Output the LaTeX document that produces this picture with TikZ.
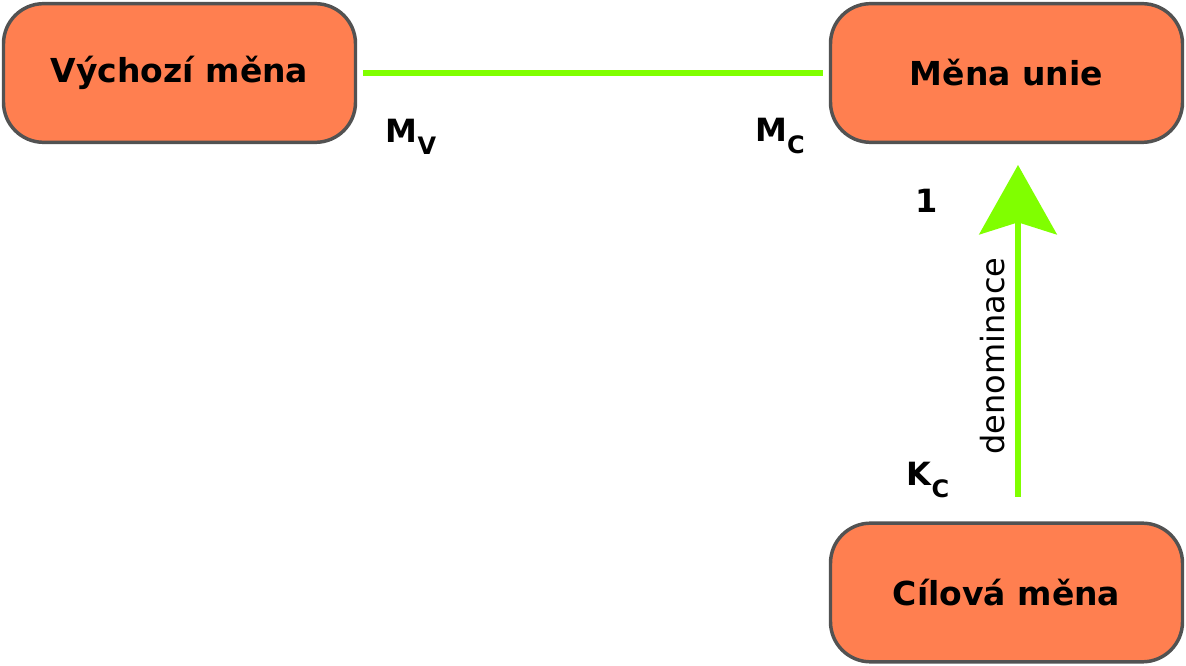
\documentclass[tikz,border=0pt]{standalone}
\usepackage{fontspec}
\setmainfont{DejaVu Sans}
\usetikzlibrary{arrows.meta}

\definecolor{boxfill}{HTML}{FF7F50}
\definecolor{boxline}{HTML}{525252}
\definecolor{flowgreen}{HTML}{80FF00}

\newcommand{\lowidx}[1]{\raisebox{-9.5pt}{\fontsize{18}{20}\selectfont #1}}

\begin{document}
\begin{tikzpicture}[x=0.75pt,y=-0.75pt,
  mena/.style={draw=boxline,line width=2.6pt,fill=boxfill,rounded corners=30pt,
    minimum width=264pt,minimum height=104pt,font=\fontsize{24.75}{30}\selectfont\bfseries},
  tag/.style={font=\fontsize{24}{28}\selectfont\bfseries},
  flow/.style={draw=flowgreen,line width=4.8pt}]
 \useasboundingbox (0,0) rectangle (1186,666);
 % three currencies
 \node[mena] (vych) at (179.5,73) {Výchozí měna};
 \node[mena] (unie) at (1006.5,73) {Měna unie};
 \node[mena] (cil) at (1006.5,592.5) {Cílová měna};
 % links
 \draw[flow,shorten <=4.3pt,shorten >=4.3pt] (vych.east) -- (unie.west);
 \coordinate (kc) at (1018,497); \coordinate (tip) at (1018,165);
 \draw[flow,-{Stealth[length=52pt,width=58pt,inset=9pt]}] (kc) -- node[pos=0.425,sloped,above=7.5pt,inner sep=0pt,font=\fontsize{24}{28}\selectfont] (den) {denominace} (tip);
 % rates
 \node[tag] (mv) at (411,137) {M\lowidx{V}};
 \node[tag] (mc) at (780,136) {M\lowidx{C}};
 \node[tag] (one) at (927,201) {1};
 \node[tag] (kcl) at (928,480) {K\lowidx{C}};
\end{tikzpicture}
\end{document}
